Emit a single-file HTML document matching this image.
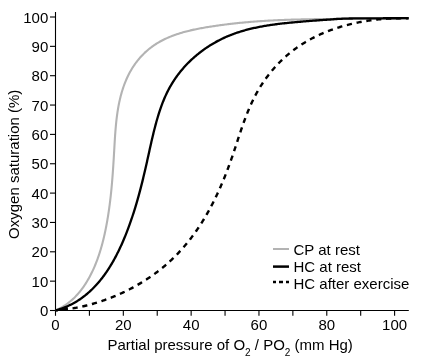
<!DOCTYPE html>
<html><head><meta charset="utf-8"><style>
html,body{margin:0;padding:0;background:#fff;width:425px;height:360px;overflow:hidden}
svg{display:block;will-change:transform}
text{font-family:"Liberation Sans",sans-serif;font-size:15px;fill:#000}
</style></head><body>
<svg width="425" height="360" viewBox="0 0 425 360">
<g stroke="#000" stroke-width="1.1" fill="none">
<line x1="55.5" y1="12" x2="55.5" y2="311"/>
<line x1="54.9" y1="310.5" x2="408.8" y2="310.5"/>
<line x1="50" y1="310.50" x2="55.5" y2="310.50"/><line x1="50" y1="281.15" x2="55.5" y2="281.15"/><line x1="50" y1="251.80" x2="55.5" y2="251.80"/><line x1="50" y1="222.45" x2="55.5" y2="222.45"/><line x1="50" y1="193.10" x2="55.5" y2="193.10"/><line x1="50" y1="163.75" x2="55.5" y2="163.75"/><line x1="50" y1="134.40" x2="55.5" y2="134.40"/><line x1="50" y1="105.05" x2="55.5" y2="105.05"/><line x1="50" y1="75.70" x2="55.5" y2="75.70"/><line x1="50" y1="46.35" x2="55.5" y2="46.35"/><line x1="50" y1="17.00" x2="55.5" y2="17.00"/><line x1="55.50" y1="310.5" x2="55.50" y2="315.8"/><line x1="89.41" y1="310.5" x2="89.41" y2="315.8"/><line x1="123.32" y1="310.5" x2="123.32" y2="315.8"/><line x1="157.23" y1="310.5" x2="157.23" y2="315.8"/><line x1="191.14" y1="310.5" x2="191.14" y2="315.8"/><line x1="225.05" y1="310.5" x2="225.05" y2="315.8"/><line x1="258.96" y1="310.5" x2="258.96" y2="315.8"/><line x1="292.87" y1="310.5" x2="292.87" y2="315.8"/><line x1="326.78" y1="310.5" x2="326.78" y2="315.8"/><line x1="360.69" y1="310.5" x2="360.69" y2="315.8"/><line x1="394.60" y1="310.5" x2="394.60" y2="315.8"/>
</g>
<g><text transform="translate(48.30,316.10) scale(1,1.0)" text-anchor="end">0</text><text transform="translate(48.30,286.75) scale(1,1.0)" text-anchor="end">10</text><text transform="translate(48.30,257.40) scale(1,1.0)" text-anchor="end">20</text><text transform="translate(48.30,228.05) scale(1,1.0)" text-anchor="end">30</text><text transform="translate(48.30,198.70) scale(1,1.0)" text-anchor="end">40</text><text transform="translate(48.30,169.35) scale(1,1.0)" text-anchor="end">50</text><text transform="translate(48.30,140.00) scale(1,1.0)" text-anchor="end">60</text><text transform="translate(48.30,110.65) scale(1,1.0)" text-anchor="end">70</text><text transform="translate(48.30,81.30) scale(1,1.0)" text-anchor="end">80</text><text transform="translate(48.30,51.95) scale(1,1.0)" text-anchor="end">90</text><text transform="translate(48.30,22.60) scale(1,1.0)" text-anchor="end">100</text><text transform="translate(55.50,330.20) scale(1,1.0)" text-anchor="middle">0</text><text transform="translate(123.32,330.20) scale(1,1.0)" text-anchor="middle">20</text><text transform="translate(191.14,330.20) scale(1,1.0)" text-anchor="middle">40</text><text transform="translate(258.96,330.20) scale(1,1.0)" text-anchor="middle">60</text><text transform="translate(326.78,330.20) scale(1,1.0)" text-anchor="middle">80</text><text transform="translate(394.60,330.20) scale(1,1.0)" text-anchor="middle">100</text></g>
<g fill="none" stroke-linejoin="round">
<path d="M55.40 310.40 L56.47 309.94 L57.52 309.46 L58.56 308.96 L59.58 308.45 L60.58 307.92 L61.57 307.37 L62.54 306.81 L63.50 306.23 L64.44 305.63 L65.37 305.02 L66.29 304.40 L67.18 303.76 L68.07 303.10 L68.94 302.43 L69.80 301.75 L70.64 301.06 L71.47 300.35 L72.29 299.63 L73.09 298.89 L73.88 298.15 L74.66 297.39 L75.42 296.62 L76.17 295.83 L76.91 295.04 L77.64 294.24 L78.36 293.42 L79.06 292.59 L79.75 291.76 L80.43 290.91 L81.10 290.06 L81.76 289.19 L82.41 288.32 L83.05 287.44 L83.67 286.54 L84.29 285.65 L84.90 284.74 L85.49 283.82 L86.08 282.90 L86.65 281.97 L87.22 281.04 L87.78 280.09 L88.33 279.14 L88.87 278.19 L89.40 277.23 L89.92 276.26 L90.43 275.29 L90.93 274.31 L91.43 273.32 L91.92 272.33 L92.39 271.34 L92.86 270.34 L93.33 269.33 L93.78 268.32 L94.23 267.31 L94.66 266.29 L95.09 265.26 L95.52 264.23 L95.93 263.20 L96.34 262.16 L96.74 261.12 L97.13 260.08 L97.52 259.03 L97.90 257.98 L98.27 256.92 L98.63 255.86 L98.99 254.80 L99.34 253.73 L99.68 252.67 L100.02 251.59 L100.35 250.52 L100.68 249.44 L100.99 248.36 L101.31 247.28 L101.61 246.20 L101.91 245.11 L102.21 244.02 L102.50 242.93 L102.78 241.84 L103.06 240.75 L103.33 239.66 L103.60 238.56 L103.86 237.46 L104.11 236.37 L104.36 235.27 L104.61 234.17 L104.85 233.07 L105.09 231.97 L105.32 230.87 L105.55 229.76 L105.77 228.66 L105.99 227.56 L106.20 226.46 L106.41 225.36 L106.62 224.26 L106.82 223.16 L107.01 222.06 L107.21 220.96 L107.40 219.86 L107.58 218.76 L107.77 217.66 L107.95 216.57 L108.12 215.47 L108.29 214.38 L108.46 213.28 L108.63 212.19 L108.79 211.09 L108.95 210.00 L109.10 208.91 L109.25 207.82 L109.40 206.72 L109.55 205.63 L109.69 204.54 L109.83 203.45 L109.97 202.36 L110.10 201.27 L110.24 200.18 L110.36 199.09 L110.49 198.00 L110.61 196.91 L110.74 195.82 L110.85 194.73 L110.97 193.64 L111.08 192.55 L111.20 191.46 L111.30 190.37 L111.41 189.28 L111.52 188.19 L111.62 187.10 L111.72 186.01 L111.82 184.92 L111.91 183.83 L112.01 182.73 L112.10 181.64 L112.19 180.55 L112.28 179.46 L112.37 178.37 L112.46 177.27 L112.54 176.18 L112.62 175.09 L112.71 173.99 L112.79 172.90 L112.86 171.80 L112.94 170.70 L113.02 169.61 L113.09 168.51 L113.17 167.41 L113.24 166.31 L113.31 165.21 L113.38 164.11 L113.45 163.01 L113.52 161.91 L113.59 160.80 L113.66 159.70 L113.73 158.59 L113.79 157.49 L113.86 156.38 L113.92 155.27 L113.99 154.16 L114.05 153.05 L114.12 151.94 L114.18 150.83 L114.24 149.72 L114.31 148.60 L114.37 147.49 L114.43 146.37 L114.50 145.25 L114.56 144.13 L114.63 143.01 L114.69 141.89 L114.76 140.77 L114.83 139.65 L114.90 138.53 L114.97 137.41 L115.05 136.28 L115.12 135.16 L115.20 134.04 L115.29 132.92 L115.37 131.79 L115.46 130.67 L115.55 129.55 L115.64 128.43 L115.74 127.30 L115.84 126.18 L115.94 125.06 L116.05 123.94 L116.16 122.82 L116.28 121.70 L116.40 120.59 L116.53 119.47 L116.66 118.35 L116.80 117.24 L116.94 116.12 L117.09 115.01 L117.24 113.90 L117.40 112.79 L117.56 111.68 L117.74 110.57 L117.91 109.47 L118.10 108.37 L118.29 107.26 L118.49 106.16 L118.70 105.07 L118.91 103.97 L119.13 102.88 L119.36 101.79 L119.60 100.70 L119.85 99.61 L120.10 98.52 L120.37 97.44 L120.64 96.36 L120.92 95.29 L121.21 94.21 L121.51 93.14 L121.82 92.07 L122.14 91.01 L122.47 89.95 L122.80 88.89 L123.15 87.83 L123.51 86.78 L123.88 85.73 L124.27 84.69 L124.66 83.65 L125.06 82.61 L125.47 81.58 L125.90 80.56 L126.34 79.54 L126.78 78.52 L127.24 77.51 L127.71 76.51 L128.19 75.51 L128.69 74.53 L129.19 73.54 L129.71 72.57 L130.24 71.60 L130.78 70.64 L131.33 69.69 L131.90 68.74 L132.48 67.80 L133.07 66.88 L133.67 65.96 L134.29 65.05 L134.91 64.15 L135.55 63.26 L136.21 62.38 L136.87 61.51 L137.54 60.65 L138.23 59.80 L138.93 58.96 L139.64 58.13 L140.36 57.31 L141.09 56.50 L141.84 55.71 L142.59 54.92 L143.36 54.15 L144.13 53.38 L144.91 52.63 L145.71 51.89 L146.52 51.16 L147.33 50.45 L148.16 49.75 L148.99 49.05 L149.83 48.38 L150.69 47.71 L151.55 47.06 L152.42 46.42 L153.30 45.80 L154.19 45.18 L155.08 44.58 L155.99 44.00 L156.90 43.42 L157.83 42.86 L158.76 42.31 L159.69 41.78 L160.64 41.25 L161.59 40.74 L162.55 40.24 L163.52 39.75 L164.49 39.27 L165.47 38.80 L166.46 38.35 L167.45 37.90 L168.45 37.46 L169.45 37.04 L170.46 36.62 L171.48 36.22 L172.50 35.82 L173.53 35.44 L174.57 35.06 L175.60 34.69 L176.65 34.33 L177.70 33.98 L178.75 33.64 L179.81 33.31 L180.87 32.98 L181.93 32.67 L183.00 32.36 L184.08 32.06 L185.16 31.76 L186.24 31.47 L187.32 31.19 L188.41 30.92 L189.50 30.65 L190.59 30.39 L191.69 30.14 L192.79 29.89 L193.89 29.65 L194.99 29.42 L196.10 29.18 L197.20 28.96 L198.31 28.74 L199.42 28.52 L200.53 28.31 L201.65 28.11 L202.76 27.91 L203.88 27.71 L204.99 27.52 L206.11 27.33 L207.23 27.14 L208.34 26.96 L209.46 26.78 L210.58 26.60 L211.69 26.43 L212.81 26.26 L213.93 26.09 L215.04 25.93 L216.16 25.76 L217.27 25.60 L218.39 25.45 L219.50 25.29 L220.62 25.14 L221.73 24.99 L222.84 24.84 L223.96 24.70 L225.07 24.56 L226.18 24.42 L227.29 24.28 L228.40 24.14 L229.52 24.01 L230.63 23.88 L231.74 23.75 L232.85 23.62 L233.96 23.50 L235.07 23.38 L236.18 23.26 L237.29 23.14 L238.40 23.03 L239.51 22.91 L240.61 22.80 L241.72 22.70 L242.83 22.59 L243.94 22.48 L245.05 22.38 L246.15 22.28 L247.26 22.18 L248.37 22.09 L249.48 21.99 L250.58 21.90 L251.69 21.81 L252.79 21.72 L253.90 21.64 L255.01 21.55 L256.11 21.47 L257.22 21.39 L258.32 21.31 L259.43 21.23 L260.53 21.15 L261.64 21.08 L262.74 21.01 L263.84 20.94 L264.95 20.87 L266.05 20.80 L267.16 20.74 L268.26 20.67 L269.36 20.61 L270.47 20.55 L271.57 20.49 L272.67 20.43 L273.78 20.38 L274.88 20.32 L275.98 20.27 L277.09 20.22 L278.19 20.17 L279.29 20.12 L280.39 20.07 L281.50 20.02 L282.60 19.98 L283.70 19.93 L284.80 19.89 L285.90 19.85 L287.01 19.81 L288.11 19.77 L289.21 19.74 L290.31 19.70 L291.41 19.67 L292.52 19.63 L293.62 19.60 L294.72 19.57 L295.82 19.54 L296.92 19.51 L298.02 19.48 L299.13 19.45 L300.23 19.43 L301.33 19.40 L302.43 19.38 L303.53 19.35 L304.64 19.33 L305.74 19.31 L306.84 19.29 L307.94 19.27 L309.04 19.25 L310.14 19.23 L311.25 19.22 L312.35 19.20 L313.45 19.18 L314.55 19.17 L315.66 19.16 L316.76 19.14 L317.86 19.13 L318.96 19.12 L320.07 19.11 L321.17 19.09 L322.27 19.08 L323.37 19.07 L324.48 19.07 L325.58 19.06 L326.68 19.05 L327.79 19.04 L328.89 19.03 L329.99 19.03 L331.10 19.00 L332.20 18.97 L333.30 18.94 L334.41 18.91 L335.51 18.88 L336.62 18.85 L337.72 18.83 L338.83 18.80 L339.93 18.77 L341.04 18.74 L342.14 18.72 L343.25 18.69 L344.35 18.66 L345.46 18.64 L346.57 18.64 L347.67 18.63 L348.78 18.63 L349.89 18.63 L350.99 18.62 L352.10 18.62 L353.21 18.61 L354.31 18.61 L355.42 18.60 L356.53 18.60 L357.64 18.60 L358.75 18.59 L359.86 18.59 L360.97 18.58 L362.08 18.58 L363.19 18.58 L364.30 18.57 L365.41 18.57 L366.52 18.56 L367.63 18.56 L368.74 18.55 L369.85 18.55 L370.96 18.55 L372.07 18.54 L373.19 18.54 L374.30 18.53 L375.41 18.53 L376.53 18.52 L377.64 18.52 L378.75 18.52 L379.87 18.51 L380.98 18.51 L382.10 18.50 L383.21 18.50 L384.33 18.49 L385.45 18.49 L386.56 18.49 L387.68 18.48 L388.80 18.48 L389.91 18.47 L391.03 18.47 L392.15 18.46 L393.27 18.46 L394.39 18.46 L395.51 18.45 L396.63 18.45 L397.75 18.44 L398.87 18.44 L399.99 18.43 L401.11 18.43 L402.24 18.42 L403.36 18.42 L404.48 18.42 L405.61 18.41 L406.73 18.41 L407.86 18.40 L408.61 18.40" stroke="#b3b3b3" stroke-width="2.1"/>
<path d="M55.40 310.40 L56.37 310.33 L57.34 310.26 L58.30 310.18 L59.27 310.10 L60.24 310.01 L61.21 309.92 L62.18 309.81 L63.15 309.71 L64.12 309.60 L65.09 309.48 L66.07 309.36 L67.04 309.23 L68.01 309.09 L68.98 308.96 L69.95 308.81 L70.92 308.66 L71.89 308.50 L72.87 308.34 L73.84 308.18 L74.81 308.01 L75.78 307.83 L76.75 307.64 L77.72 307.46 L78.69 307.26 L79.66 307.06 L80.63 306.86 L81.60 306.65 L82.57 306.44 L83.54 306.22 L84.51 305.99 L85.48 305.76 L86.44 305.52 L87.41 305.28 L88.38 305.04 L89.34 304.78 L90.31 304.53 L91.27 304.27 L92.23 304.00 L93.19 303.73 L94.15 303.45 L95.11 303.17 L96.07 302.88 L97.03 302.59 L97.99 302.29 L98.94 301.99 L99.90 301.68 L100.85 301.37 L101.80 301.05 L102.75 300.73 L103.70 300.40 L104.65 300.07 L105.60 299.73 L106.54 299.39 L107.49 299.04 L108.43 298.69 L109.37 298.33 L110.31 297.97 L111.25 297.60 L112.19 297.23 L113.12 296.85 L114.05 296.47 L114.98 296.08 L115.91 295.69 L116.84 295.30 L117.77 294.90 L118.69 294.49 L119.61 294.08 L120.53 293.67 L121.45 293.25 L122.36 292.82 L123.28 292.39 L124.19 291.96 L125.10 291.52 L126.00 291.08 L126.91 290.63 L127.81 290.18 L128.71 289.72 L129.61 289.26 L130.50 288.80 L131.39 288.33 L132.28 287.85 L133.17 287.37 L134.06 286.89 L134.94 286.40 L135.82 285.91 L136.69 285.41 L137.57 284.91 L138.44 284.41 L139.31 283.90 L140.17 283.38 L141.04 282.86 L141.90 282.34 L142.75 281.81 L143.61 281.28 L144.46 280.74 L145.30 280.20 L146.15 279.66 L146.99 279.11 L147.83 278.55 L148.66 278.00 L149.49 277.43 L150.32 276.87 L151.15 276.30 L151.97 275.72 L152.78 275.15 L153.60 274.56 L154.41 273.98 L155.22 273.38 L156.02 272.79 L156.82 272.19 L157.62 271.59 L158.41 270.98 L159.20 270.37 L159.98 269.75 L160.76 269.13 L161.54 268.51 L162.31 267.88 L163.08 267.25 L163.85 266.61 L164.61 265.97 L165.37 265.33 L166.12 264.68 L166.87 264.03 L167.61 263.38 L168.35 262.72 L169.09 262.06 L169.82 261.39 L170.55 260.72 L171.27 260.05 L171.99 259.37 L172.70 258.69 L173.41 258.00 L174.12 257.31 L174.82 256.62 L175.51 255.92 L176.21 255.22 L176.89 254.52 L177.58 253.81 L178.26 253.10 L178.93 252.38 L179.60 251.66 L180.27 250.94 L180.93 250.22 L181.59 249.49 L182.24 248.76 L182.89 248.02 L183.54 247.28 L184.18 246.54 L184.81 245.79 L185.45 245.05 L186.08 244.29 L186.70 243.54 L187.32 242.78 L187.94 242.02 L188.55 241.25 L189.16 240.49 L189.77 239.71 L190.37 238.94 L190.97 238.16 L191.56 237.38 L192.15 236.60 L192.74 235.81 L193.32 235.02 L193.90 234.23 L194.47 233.44 L195.04 232.64 L195.61 231.84 L196.17 231.03 L196.73 230.23 L197.29 229.42 L197.84 228.61 L198.39 227.79 L198.94 226.97 L199.48 226.15 L200.02 225.33 L200.55 224.51 L201.08 223.68 L201.61 222.85 L202.13 222.02 L202.65 221.18 L203.17 220.34 L203.69 219.50 L204.20 218.66 L204.70 217.81 L205.21 216.96 L205.71 216.11 L206.20 215.26 L206.70 214.41 L207.19 213.55 L207.68 212.69 L208.16 211.83 L208.64 210.97 L209.12 210.10 L209.59 209.23 L210.07 208.36 L210.53 207.49 L211.00 206.61 L211.46 205.74 L211.92 204.86 L212.38 203.98 L212.83 203.10 L213.28 202.21 L213.73 201.33 L214.17 200.44 L214.61 199.55 L215.05 198.66 L215.49 197.76 L215.92 196.87 L216.35 195.97 L216.77 195.07 L217.20 194.17 L217.62 193.27 L218.04 192.36 L218.45 191.46 L218.87 190.55 L219.28 189.64 L219.68 188.73 L220.09 187.82 L220.49 186.90 L220.89 185.99 L221.29 185.07 L221.68 184.15 L222.07 183.23 L222.46 182.31 L222.85 181.39 L223.23 180.47 L223.62 179.54 L224.00 178.62 L224.37 177.69 L224.75 176.76 L225.12 175.83 L225.49 174.90 L225.86 173.97 L226.22 173.03 L226.58 172.10 L226.94 171.16 L227.30 170.23 L227.66 169.29 L228.01 168.35 L228.36 167.41 L228.71 166.47 L229.06 165.53 L229.40 164.59 L229.75 163.65 L230.09 162.70 L230.42 161.76 L230.76 160.81 L231.10 159.86 L231.43 158.92 L231.76 157.97 L232.09 157.02 L232.41 156.07 L232.74 155.12 L233.06 154.17 L233.38 153.22 L233.70 152.27 L234.02 151.32 L234.34 150.37 L234.66 149.42 L234.97 148.46 L235.29 147.51 L235.60 146.56 L235.92 145.61 L236.23 144.65 L236.54 143.70 L236.85 142.75 L237.17 141.80 L237.48 140.84 L237.79 139.89 L238.11 138.94 L238.42 137.99 L238.73 137.04 L239.05 136.09 L239.36 135.14 L239.68 134.19 L240.00 133.24 L240.31 132.30 L240.63 131.35 L240.95 130.41 L241.27 129.46 L241.60 128.52 L241.92 127.57 L242.25 126.63 L242.58 125.69 L242.91 124.75 L243.24 123.81 L243.58 122.88 L243.91 121.94 L244.25 121.01 L244.60 120.07 L244.94 119.14 L245.29 118.21 L245.64 117.28 L245.99 116.36 L246.35 115.43 L246.71 114.51 L247.07 113.59 L247.44 112.67 L247.81 111.75 L248.19 110.83 L248.57 109.92 L248.95 109.01 L249.33 108.10 L249.72 107.19 L250.12 106.29 L250.52 105.38 L250.92 104.48 L251.33 103.59 L251.74 102.69 L252.16 101.80 L252.59 100.91 L253.02 100.02 L253.45 99.13 L253.89 98.25 L254.33 97.37 L254.78 96.49 L255.24 95.62 L255.70 94.75 L256.17 93.88 L256.64 93.02 L257.12 92.15 L257.61 91.29 L258.10 90.44 L258.60 89.59 L259.10 88.74 L259.61 87.89 L260.13 87.05 L260.65 86.21 L261.18 85.38 L261.71 84.54 L262.25 83.72 L262.80 82.89 L263.35 82.07 L263.91 81.25 L264.47 80.44 L265.04 79.63 L265.62 78.83 L266.20 78.03 L266.79 77.23 L267.38 76.44 L267.98 75.65 L268.58 74.86 L269.19 74.08 L269.80 73.31 L270.42 72.54 L271.05 71.77 L271.68 71.01 L272.32 70.25 L272.96 69.49 L273.61 68.75 L274.26 68.00 L274.92 67.26 L275.58 66.53 L276.25 65.80 L276.93 65.07 L277.61 64.35 L278.29 63.64 L278.98 62.93 L279.67 62.22 L280.37 61.52 L281.08 60.83 L281.79 60.14 L282.51 59.46 L283.23 58.78 L283.95 58.10 L284.68 57.44 L285.42 56.77 L286.16 56.12 L286.90 55.47 L287.65 54.82 L288.41 54.18 L289.17 53.55 L289.93 52.92 L290.70 52.30 L291.48 51.68 L292.25 51.08 L293.04 50.47 L293.83 49.87 L294.62 49.28 L295.42 48.70 L296.22 48.12 L297.02 47.55 L297.83 46.98 L298.65 46.42 L299.47 45.87 L300.29 45.32 L301.12 44.78 L301.95 44.24 L302.79 43.71 L303.63 43.19 L304.47 42.67 L305.32 42.16 L306.18 41.65 L307.03 41.15 L307.89 40.66 L308.76 40.17 L309.62 39.69 L310.49 39.22 L311.37 38.75 L312.25 38.28 L313.13 37.83 L314.01 37.37 L314.90 36.93 L315.80 36.49 L316.69 36.05 L317.59 35.62 L318.49 35.20 L319.40 34.78 L320.30 34.37 L321.22 33.97 L322.13 33.57 L323.05 33.17 L323.97 32.78 L324.89 32.40 L325.81 32.02 L326.74 31.65 L327.67 31.28 L328.61 30.92 L329.54 30.57 L330.48 30.22 L331.42 29.87 L332.36 29.53 L333.31 29.20 L334.26 28.87 L335.21 28.55 L336.16 28.23 L337.11 27.92 L338.07 27.61 L339.03 27.31 L339.99 27.02 L340.95 26.72 L341.92 26.44 L342.88 26.16 L343.85 25.88 L344.82 25.61 L345.79 25.35 L346.76 25.09 L347.74 24.84 L348.71 24.59 L349.69 24.34 L350.67 24.10 L351.65 23.87 L352.63 23.64 L353.61 23.42 L354.59 23.20 L355.58 22.99 L356.56 22.78 L357.55 22.57 L358.54 22.37 L359.52 22.18 L360.51 21.99 L361.50 21.81 L362.49 21.63 L363.49 21.45 L364.48 21.28 L365.47 21.12 L366.46 20.96 L367.46 20.80 L368.45 20.65 L369.44 20.51 L370.44 20.37 L371.43 20.23 L372.43 20.10 L373.42 19.97 L374.42 19.85 L375.42 19.73 L376.41 19.62 L377.41 19.51 L378.40 19.41 L379.40 19.31 L380.39 19.21 L381.39 19.12 L382.38 19.04 L383.37 18.95 L384.37 18.88 L385.36 18.81 L386.35 18.74 L387.34 18.67 L388.33 18.61 L389.33 18.56 L390.31 18.51 L391.30 18.46 L392.29 18.42 L393.28 18.38 L394.26 18.35 L395.25 18.32 L396.23 18.29 L397.22 18.27 L398.20 18.25 L399.18 18.24 L400.16 18.23 L401.14 18.23 L402.11 18.23 L403.09 18.23 L404.06 18.24 L405.03 18.25 L406.00 18.27 L406.97 18.29 L407.94 18.31 L408.58 18.33" stroke="#000" stroke-width="2.4" stroke-dasharray="5.2 4.7357" stroke-dashoffset="2.61"/>
<path d="M55.40 310.40 L56.46 310.12 L57.50 309.83 L58.54 309.52 L59.57 309.20 L60.59 308.87 L61.60 308.52 L62.61 308.17 L63.60 307.80 L64.59 307.42 L65.57 307.02 L66.54 306.62 L67.50 306.20 L68.45 305.77 L69.39 305.33 L70.33 304.87 L71.26 304.41 L72.18 303.94 L73.09 303.45 L73.99 302.95 L74.89 302.44 L75.77 301.92 L76.65 301.40 L77.52 300.86 L78.39 300.31 L79.24 299.74 L80.09 299.17 L80.93 298.59 L81.76 298.00 L82.59 297.40 L83.40 296.79 L84.21 296.17 L85.01 295.54 L85.81 294.91 L86.60 294.26 L87.38 293.60 L88.15 292.94 L88.91 292.26 L89.67 291.58 L90.42 290.89 L91.17 290.19 L91.91 289.48 L92.64 288.76 L93.36 288.04 L94.08 287.31 L94.78 286.57 L95.49 285.82 L96.18 285.06 L96.87 284.30 L97.55 283.53 L98.23 282.75 L98.90 281.97 L99.56 281.17 L100.22 280.38 L100.87 279.57 L101.51 278.76 L102.15 277.94 L102.78 277.11 L103.41 276.28 L104.03 275.45 L104.64 274.60 L105.24 273.75 L105.85 272.90 L106.44 272.04 L107.03 271.17 L107.61 270.30 L108.19 269.42 L108.76 268.54 L109.32 267.65 L109.88 266.76 L110.44 265.86 L110.99 264.96 L111.53 264.05 L112.07 263.14 L112.60 262.23 L113.13 261.31 L113.65 260.38 L114.16 259.46 L114.68 258.53 L115.18 257.59 L115.68 256.65 L116.18 255.71 L116.67 254.76 L117.15 253.82 L117.63 252.86 L118.11 251.91 L118.58 250.95 L119.05 249.99 L119.51 249.03 L119.96 248.06 L120.42 247.09 L120.86 246.12 L121.31 245.15 L121.74 244.17 L122.18 243.20 L122.61 242.22 L123.03 241.24 L123.45 240.26 L123.87 239.27 L124.28 238.29 L124.69 237.30 L125.09 236.32 L125.49 235.33 L125.89 234.34 L126.28 233.35 L126.67 232.36 L127.05 231.37 L127.43 230.38 L127.81 229.39 L128.18 228.40 L128.55 227.41 L128.92 226.42 L129.28 225.43 L129.64 224.43 L129.99 223.44 L130.34 222.45 L130.69 221.46 L131.03 220.47 L131.37 219.48 L131.71 218.49 L132.05 217.50 L132.38 216.50 L132.71 215.51 L133.03 214.52 L133.35 213.53 L133.67 212.54 L133.99 211.55 L134.30 210.55 L134.61 209.56 L134.92 208.57 L135.23 207.57 L135.53 206.58 L135.83 205.59 L136.12 204.59 L136.42 203.60 L136.71 202.60 L137.00 201.61 L137.29 200.61 L137.57 199.62 L137.85 198.62 L138.13 197.63 L138.41 196.63 L138.69 195.63 L138.96 194.63 L139.23 193.64 L139.50 192.64 L139.77 191.64 L140.03 190.64 L140.30 189.64 L140.56 188.64 L140.82 187.64 L141.07 186.64 L141.33 185.64 L141.58 184.63 L141.84 183.63 L142.09 182.63 L142.34 181.62 L142.59 180.62 L142.83 179.61 L143.08 178.60 L143.32 177.60 L143.56 176.59 L143.80 175.58 L144.04 174.57 L144.28 173.56 L144.52 172.55 L144.76 171.54 L144.99 170.53 L145.23 169.51 L145.46 168.50 L145.69 167.49 L145.92 166.47 L146.15 165.45 L146.38 164.44 L146.61 163.42 L146.84 162.40 L147.07 161.38 L147.30 160.36 L147.52 159.34 L147.75 158.32 L147.97 157.29 L148.20 156.27 L148.43 155.24 L148.65 154.22 L148.88 153.19 L149.10 152.16 L149.33 151.14 L149.56 150.11 L149.78 149.08 L150.01 148.05 L150.24 147.02 L150.47 145.99 L150.70 144.96 L150.93 143.93 L151.17 142.90 L151.40 141.87 L151.64 140.84 L151.88 139.81 L152.12 138.78 L152.36 137.75 L152.60 136.72 L152.84 135.69 L153.09 134.66 L153.34 133.63 L153.59 132.60 L153.85 131.57 L154.10 130.54 L154.36 129.51 L154.63 128.48 L154.89 127.45 L155.16 126.42 L155.43 125.40 L155.70 124.37 L155.98 123.34 L156.26 122.32 L156.55 121.30 L156.84 120.27 L157.13 119.25 L157.43 118.23 L157.73 117.21 L158.04 116.19 L158.35 115.18 L158.66 114.16 L158.98 113.15 L159.30 112.14 L159.63 111.13 L159.97 110.12 L160.31 109.12 L160.65 108.12 L161.01 107.12 L161.36 106.13 L161.73 105.13 L162.10 104.14 L162.47 103.16 L162.85 102.17 L163.24 101.20 L163.64 100.22 L164.04 99.25 L164.45 98.28 L164.87 97.32 L165.29 96.36 L165.72 95.40 L166.16 94.45 L166.61 93.50 L167.06 92.56 L167.52 91.62 L168.00 90.69 L168.47 89.76 L168.96 88.84 L169.46 87.92 L169.96 87.01 L170.48 86.11 L171.00 85.21 L171.53 84.31 L172.07 83.42 L172.61 82.54 L173.17 81.66 L173.73 80.79 L174.30 79.92 L174.88 79.06 L175.47 78.20 L176.06 77.35 L176.67 76.51 L177.28 75.67 L177.89 74.84 L178.52 74.01 L179.15 73.19 L179.79 72.37 L180.44 71.57 L181.10 70.76 L181.76 69.97 L182.43 69.17 L183.10 68.39 L183.79 67.61 L184.48 66.84 L185.17 66.07 L185.88 65.31 L186.59 64.56 L187.31 63.81 L188.03 63.07 L188.76 62.33 L189.50 61.61 L190.24 60.88 L190.99 60.17 L191.75 59.46 L192.51 58.76 L193.28 58.06 L194.05 57.37 L194.84 56.69 L195.62 56.01 L196.41 55.34 L197.21 54.68 L198.02 54.03 L198.83 53.38 L199.64 52.73 L200.46 52.10 L201.29 51.47 L202.12 50.85 L202.96 50.23 L203.80 49.63 L204.65 49.03 L205.50 48.43 L206.36 47.85 L207.22 47.27 L208.09 46.70 L208.96 46.13 L209.84 45.57 L210.72 45.02 L211.61 44.48 L212.50 43.95 L213.39 43.42 L214.29 42.90 L215.20 42.38 L216.11 41.88 L217.02 41.38 L217.94 40.89 L218.86 40.41 L219.79 39.93 L220.72 39.46 L221.65 39.00 L222.59 38.55 L223.53 38.10 L224.47 37.67 L225.42 37.24 L226.37 36.82 L227.33 36.40 L228.29 36.00 L229.25 35.60 L230.22 35.21 L231.19 34.83 L232.16 34.45 L233.13 34.09 L234.11 33.73 L235.09 33.38 L236.08 33.03 L237.06 32.70 L238.06 32.37 L239.05 32.05 L240.04 31.73 L241.04 31.42 L242.04 31.12 L243.05 30.82 L244.05 30.53 L245.06 30.25 L246.07 29.98 L247.09 29.71 L248.10 29.44 L249.12 29.18 L250.14 28.93 L251.16 28.69 L252.18 28.45 L253.21 28.21 L254.24 27.98 L255.27 27.76 L256.30 27.54 L257.33 27.32 L258.36 27.12 L259.40 26.91 L260.44 26.71 L261.48 26.52 L262.52 26.33 L263.56 26.15 L264.60 25.97 L265.65 25.79 L266.69 25.62 L267.74 25.45 L268.79 25.29 L269.83 25.13 L270.88 24.97 L271.93 24.82 L272.98 24.67 L274.04 24.53 L275.09 24.38 L276.14 24.25 L277.20 24.11 L278.25 23.98 L279.30 23.85 L280.36 23.72 L281.42 23.60 L282.47 23.48 L283.53 23.36 L284.58 23.25 L285.64 23.13 L286.70 23.02 L287.75 22.91 L288.81 22.81 L289.86 22.70 L290.92 22.60 L291.97 22.50 L293.03 22.40 L294.08 22.30 L295.14 22.20 L296.19 22.11 L297.24 22.02 L298.30 21.92 L299.35 21.83 L300.40 21.74 L301.45 21.65 L302.50 21.56 L303.55 21.47 L304.60 21.39 L305.64 21.30 L306.69 21.21 L307.74 21.13 L308.78 21.05 L309.82 20.96 L310.87 20.88 L311.91 20.80 L312.95 20.72 L314.00 20.64 L315.04 20.56 L316.08 20.48 L317.12 20.41 L318.16 20.33 L319.20 20.26 L320.24 20.18 L321.28 20.11 L322.32 20.04 L323.35 19.97 L324.39 19.90 L325.43 19.83 L326.46 19.76 L327.50 19.70 L328.54 19.63 L329.57 19.57 L330.61 19.49 L331.64 19.40 L332.68 19.32 L333.71 19.24 L334.75 19.16 L335.78 19.09 L336.82 19.02 L337.85 18.96 L338.89 18.90 L339.92 18.85 L340.95 18.80 L341.99 18.76 L343.02 18.72 L344.06 18.68 L345.09 18.64 L346.12 18.61 L347.16 18.58 L348.19 18.55 L349.23 18.52 L350.26 18.50 L351.30 18.49 L352.33 18.48 L353.37 18.47 L354.40 18.46 L355.44 18.46 L356.47 18.45 L357.51 18.44 L358.54 18.43 L359.58 18.42 L360.62 18.42 L361.65 18.41 L362.69 18.40 L363.73 18.39 L364.77 18.38 L365.80 18.37 L366.84 18.37 L367.88 18.36 L368.92 18.35 L369.96 18.34 L371.00 18.33 L372.04 18.32 L373.09 18.32 L374.13 18.31 L375.17 18.30 L376.21 18.30 L377.26 18.29 L378.30 18.29 L379.35 18.29 L380.39 18.28 L381.44 18.28 L382.49 18.28 L383.54 18.27 L384.58 18.27 L385.63 18.27 L386.68 18.27 L387.74 18.26 L388.79 18.26 L389.84 18.26 L390.89 18.25 L391.95 18.25 L393.00 18.25 L394.06 18.24 L395.12 18.24 L396.18 18.24 L397.24 18.23 L398.30 18.23 L399.36 18.23 L400.42 18.22 L401.48 18.22 L402.55 18.22 L403.61 18.21 L404.68 18.21 L405.75 18.21 L406.82 18.21 L407.89 18.20 L408.60 18.20" stroke="#000" stroke-width="2.3"/>
<path d="M55.4 310.9 L58 309.7 L62 308.4 L66 306.9 L67.6 306.4 L67.9 310.9 Z" fill="#000" stroke="none"/>
</g>
<text transform="translate(107.50,349.80) scale(1,1.0)">Partial pressure of O<tspan font-size="10" dy="6">2</tspan><tspan dy="-6"> / PO</tspan><tspan font-size="10" dy="6">2</tspan><tspan dy="-6"> (mm Hg)</tspan></text>
<text transform="translate(19.20,238.90) rotate(-90) scale(1,1.0)">Oxygen saturation (%)</text>
<g fill="none">
<line x1="273" y1="249" x2="289" y2="249" stroke="#b3b3b3" stroke-width="2"/>
<line x1="273" y1="266.6" x2="289" y2="266.6" stroke="#000" stroke-width="2.5"/>
<line x1="273" y1="282.1" x2="289" y2="282.1" stroke="#000" stroke-width="2.5" stroke-dasharray="3 3 4 3 3 0"/>
</g>
<text transform="translate(293.50,254.60) scale(1,1.0)">CP at rest</text>
<text transform="translate(293.50,271.60) scale(1,1.0)">HC at rest</text>
<text transform="translate(293.50,288.60) scale(1,1.0)">HC after exercise</text>
</svg>
</body></html>
